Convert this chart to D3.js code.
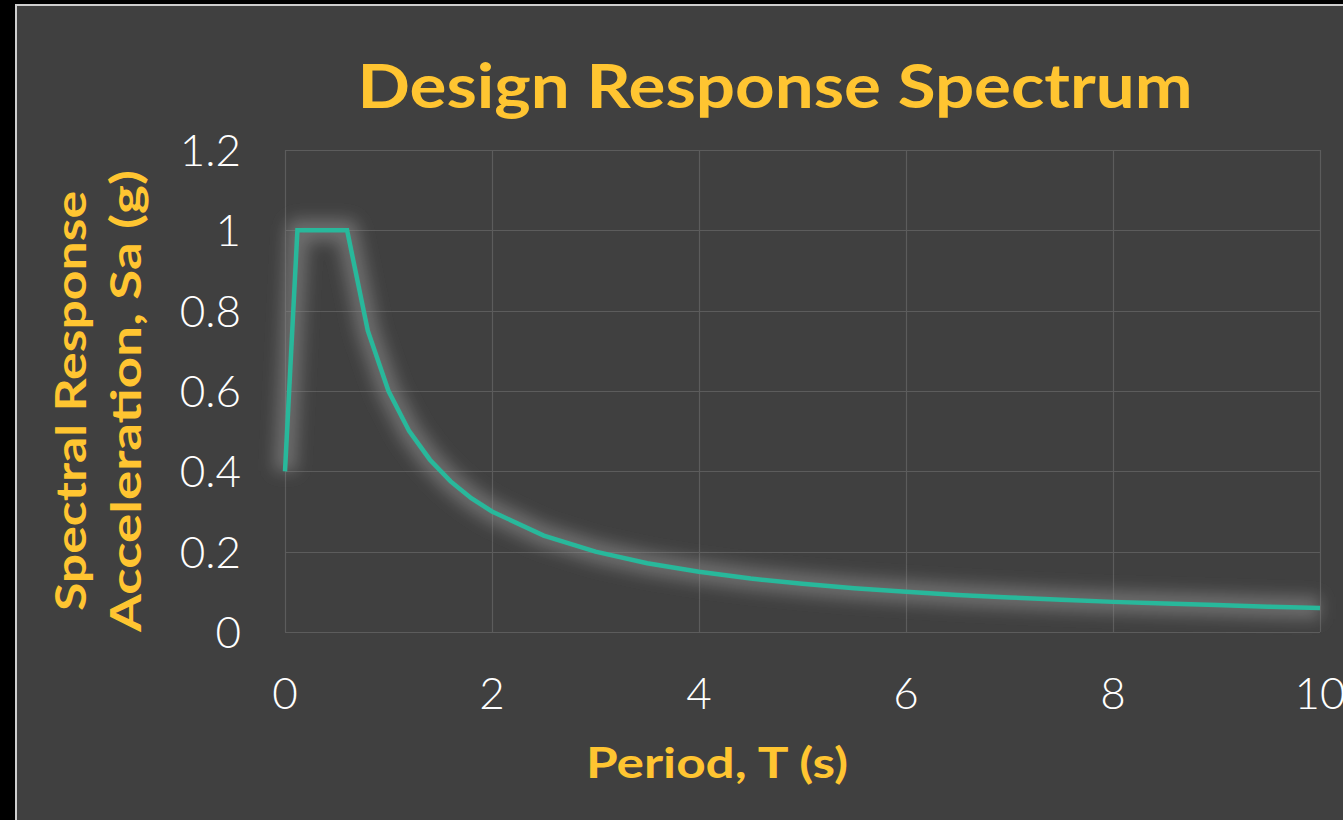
<!DOCTYPE html>
<html><head><meta charset="utf-8">
<script src="https://cdn.jsdelivr.net/npm/d3@7"></script>
<style>html,body{margin:0;padding:0;background:#000;overflow:hidden}</style>
</head><body>
<svg id="c" width="1343" height="820"></svg>
<script>
const periods = [0, 0.12, 0.6, 0.8, 1.0, 1.2, 1.4, 1.6, 1.8, 2.0, 2.5, 3.0, 3.5, 4.0, 4.5, 5.0, 5.5, 6.0, 6.5, 7.0, 7.5, 8.0, 8.5, 9.0, 9.5, 10.0];
const sa =      [0.4, 1.0, 1.0, 0.75, 0.6, 0.5, 0.429, 0.375, 0.333, 0.3, 0.24, 0.2, 0.171, 0.15, 0.133, 0.12, 0.109, 0.1, 0.092, 0.086, 0.08, 0.075, 0.071, 0.067, 0.063, 0.06];
const xTicks = [0, 2, 4, 6, 8, 10];
const yTicks = [0, 0.2, 0.4, 0.6, 0.8, 1, 1.2];
const yTickLabels = ["0", "0.2", "0.4", "0.6", "0.8", "1", "1.2"];
const titleText = "Design Response Spectrum";
const xTitle = "Period, T (s)";
const yTitle = ["Spectral Response", "Acceleration, Sa (g)"];

const svg = d3.select("#c");
const W = 1343, H = 820;
const L = 285, R = 1320, T = 150, B = 632;
const yellow = "#FFC531", teal = "#28B89B", grid = "#5c5c5c";

// frame
svg.append("rect").attr("x", 0).attr("y", 0).attr("width", W).attr("height", H).attr("fill", "#000");
svg.append("rect").attr("x", 15).attr("y", 4).attr("width", W - 15).attr("height", H - 4).attr("fill", "#cfcfcf");
svg.append("rect").attr("x", 17).attr("y", 6).attr("width", W - 17).attr("height", H - 6).attr("fill", "#404040");

const x = d3.scaleLinear().domain([0, 10]).range([L, R]);
const y = d3.scaleLinear().domain([0, 1.2]).range([B, T]);

const defs = svg.append("defs");
defs.append("filter").attr("id", "glow").attr("x", "-20%").attr("y", "-20%").attr("width", "140%").attr("height", "140%")
  .append("feGaussianBlur").attr("stdDeviation", 8);

// grid
const g = svg.append("g");
g.selectAll(".hg").data(yTicks).join("line")
  .attr("x1", L).attr("x2", R).attr("y1", d => Math.round(y(d)) + 0.5).attr("y2", d => Math.round(y(d)) + 0.5)
  .attr("stroke", grid).attr("stroke-width", 1.2);
g.selectAll(".vg").data(xTicks).join("line")
  .attr("y1", T).attr("y2", B).attr("x1", d => Math.round(x(d)) + 0.5).attr("x2", d => Math.round(x(d)) + 0.5)
  .attr("stroke", grid).attr("stroke-width", 1.2);

// line with glow
const line = d3.line().x((d, i) => x(periods[i])).y(d => y(d));
svg.append("path").attr("d", line(sa)).attr("fill", "none").attr("stroke", "#8c8c8c")
  .attr("stroke-width", 22).attr("stroke-opacity", 0.6).attr("stroke-linejoin", "round").attr("filter", "url(#glow)");
svg.append("path").attr("d", line(sa)).attr("fill", "none").attr("stroke", teal)
  .attr("stroke-width", 4.5).attr("stroke-linejoin", "miter");

// tick labels
const tickFont = "Lato, 'Open Sans', sans-serif";
svg.selectAll(".yt").data(yTicks).join("text")
  .attr("x", 241).attr("y", d => y(d) + 16).attr("text-anchor", "end")
  .attr("fill", "#fff").attr("font-family", tickFont).attr("font-weight", 300).attr("font-size", 44)
  .text((d, i) => yTickLabels[i]);
svg.selectAll(".xt").data(xTicks).join("text")
  .attr("x", d => x(d)).attr("y", 709).attr("text-anchor", "middle")
  .attr("fill", "#fff").attr("font-family", tickFont).attr("font-weight", 300).attr("font-size", 44)
  .text(d => d);

// titles
const boldFont = "Lato, 'Open Sans', sans-serif";
svg.append("text").attr("x", 775).attr("y", 108).attr("text-anchor", "middle")
  .attr("fill", yellow).attr("font-family", boldFont).attr("font-weight", 700).attr("font-size", 62)
  .attr("textLength", 835).attr("lengthAdjust", "spacingAndGlyphs").text(titleText);
svg.append("text").attr("x", 717).attr("y", 778).attr("text-anchor", "middle")
  .attr("fill", yellow).attr("font-family", boldFont).attr("font-weight", 700).attr("font-size", 42)
  .attr("textLength", 262).attr("lengthAdjust", "spacingAndGlyphs").text(xTitle);
const yt = svg.append("g").attr("transform", "translate(0,401) rotate(-90)");
yt.append("text").attr("x", 0).attr("y", 86).attr("text-anchor", "middle")
  .attr("fill", yellow).attr("font-family", boldFont).attr("font-weight", 700).attr("font-size", 42)
  .attr("textLength", 420).attr("lengthAdjust", "spacingAndGlyphs").text(yTitle[0]);
yt.append("text").attr("x", 0).attr("y", 141).attr("text-anchor", "middle")
  .attr("fill", yellow).attr("font-family", boldFont).attr("font-weight", 700).attr("font-size", 42)
  .attr("textLength", 462).attr("lengthAdjust", "spacingAndGlyphs").text(yTitle[1]);
</script>
</body></html>
